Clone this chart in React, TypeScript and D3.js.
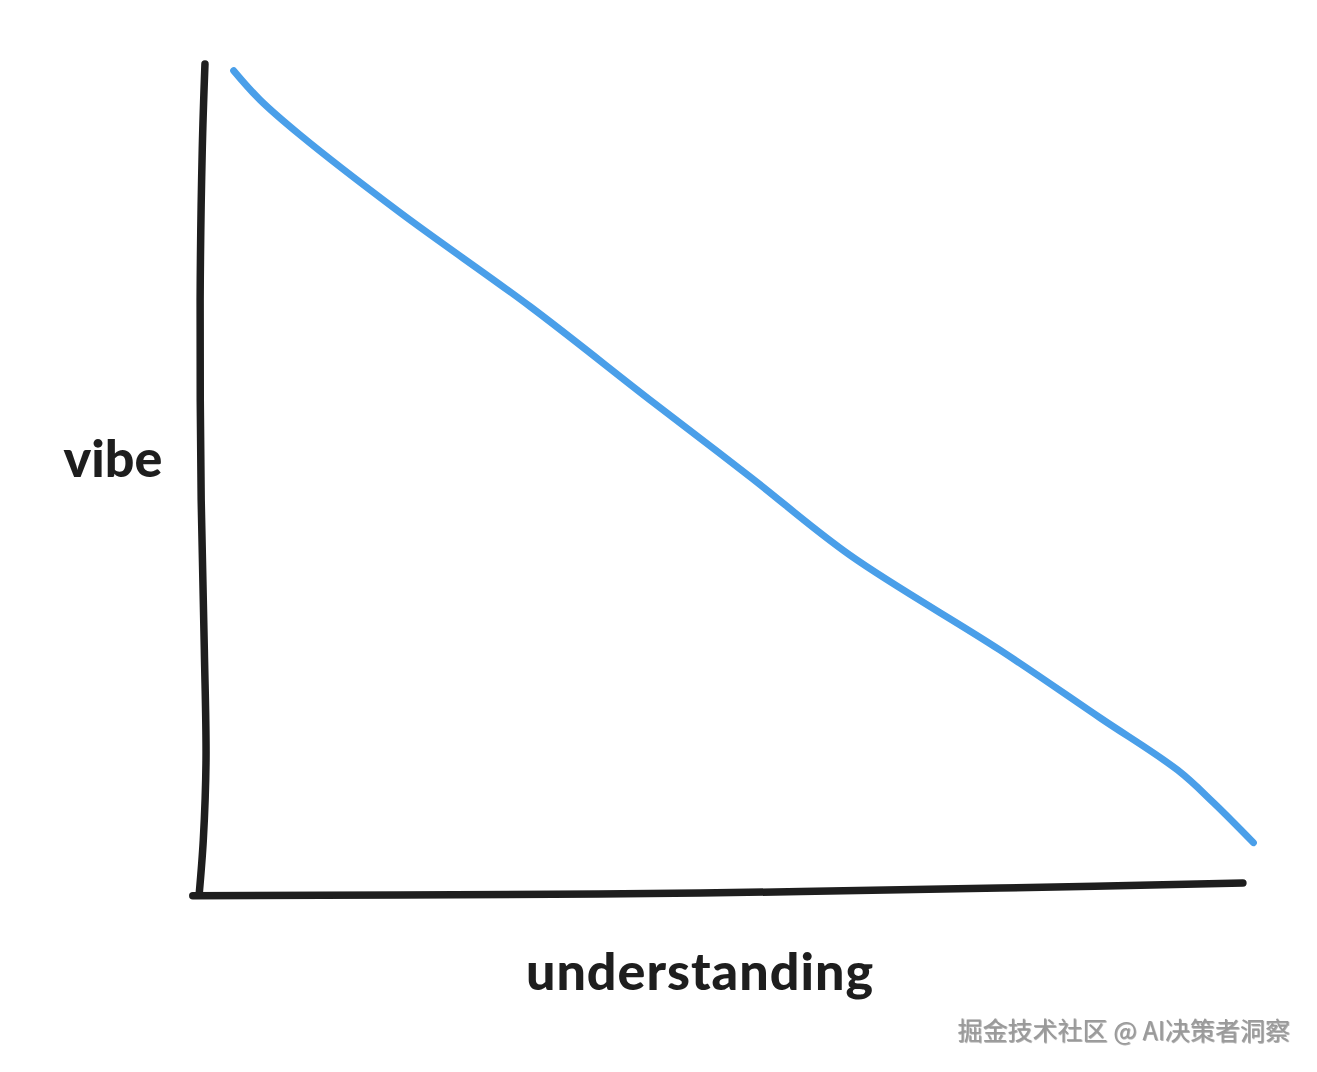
import React from "react";
import * as d3 from "d3";

const W = 1317;
const H = 1072;

// hand-drawn curve: understanding (x) vs vibe (y), 0..100 units
const curveX = [3.5, 6.0, 9.8, 19.4, 31.8, 43.2, 52.8, 62.3, 76.6, 86.2, 93.6, 97.0, 100.8];
const curveY = [99.2, 95.7, 91.5, 82.1, 70.8, 59.6, 50.3, 40.9, 29.5, 21.3, 15.0, 11.1, 6.3];

// wobbly hand-drawn axes
const yAxisX = [0.76, 0.5, 0.3, 0.4, 0.7, 0.86, 0.6, 0.2];
const yAxisY = [100, 89.6, 71.6, 47.5, 29.5, 16.2, 6.6, 0];
const xAxisX = [-0.4, 19.4, 48, 76.6, 99.8];
const xAxisY = [-0.1, 0, 0.24, 0.84, 1.44];

const xLabel = "understanding";
const yLabel = "vibe";
const watermark = "掘金技术社区 @ AI决策者洞察";

export default function App() {
  const x = d3.scaleLinear().domain([0, 100]).range([197, 1245]);
  const y = d3.scaleLinear().domain([0, 100]).range([895, 64]);

  const line = d3
    .line<[number, number]>()
    .x((d) => x(d[0]))
    .y((d) => y(d[1]))
    .curve(d3.curveCatmullRom.alpha(0.5));

  const curve = line(curveX.map((v, i) => [v, curveY[i]] as [number, number]));
  const yAxis = line(yAxisX.map((v, i) => [v, yAxisY[i]] as [number, number]));
  const xAxis = line(xAxisX.map((v, i) => [v, xAxisY[i]] as [number, number]));

  const font = "'Lato', 'Noto Sans', sans-serif";

  return (
    <svg
      width={W}
      height={H}
      style={{ position: "absolute", left: 0, top: 0, background: "#fff" }}
    >
      <defs>
        <filter id="emboss" x="-5%" y="-20%" width="110%" height="140%">
          <feDropShadow dx="0.8" dy="0.8" stdDeviation="0.3" floodColor="#555" floodOpacity="0.6" />
        </filter>
      </defs>
      <rect width={W} height={H} fill="#fff" />
      <path d={yAxis ?? ""} fill="none" stroke="#1e1e1e" strokeWidth={7.5} strokeLinecap="round" strokeLinejoin="round" />
      <path d={xAxis ?? ""} fill="none" stroke="#1e1e1e" strokeWidth={7.5} strokeLinecap="round" strokeLinejoin="round" />
      <path d={curve ?? ""} fill="none" stroke="#4a9fe9" strokeWidth={7} strokeLinecap="round" strokeLinejoin="round" />
      <text x={113} y={477} textAnchor="middle" fontFamily={font} fontWeight={900} fontSize={52} fill="#1e1e1e">
        {yLabel}
      </text>
      <text x={700} y={990} textAnchor="middle" fontFamily={font} fontWeight={900} fontSize={52} fill="#1e1e1e" letterSpacing={1}>
        {xLabel}
      </text>
      <text x={1290} y={1040} textAnchor="end" fontFamily="'Noto Sans CJK SC', sans-serif" fontSize={25} fill="#9a9a9a" filter="url(#emboss)">
        {watermark}
      </text>
    </svg>
  );
}
